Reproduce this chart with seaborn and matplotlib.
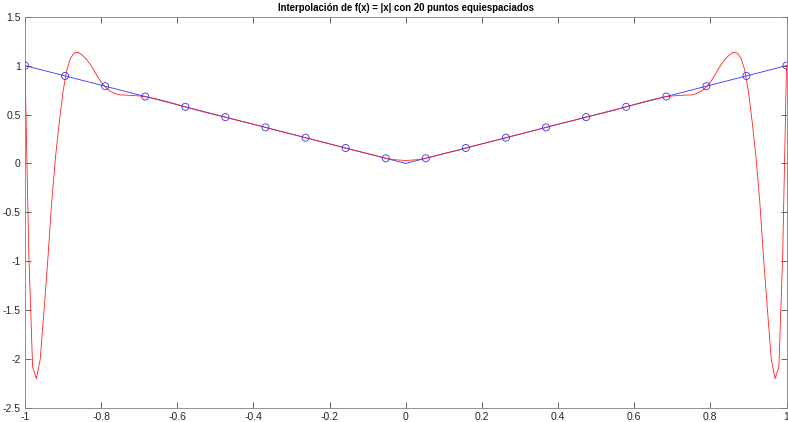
import matplotlib
matplotlib.use("Agg")
import matplotlib.pyplot as plt
import seaborn as sns
import pandas as pd

# ---- data ----
title = "Interpolación de f(x) = |x| con 20 puntos equiespaciados"

node_x = [-1.0, -0.8947, -0.7895, -0.6842, -0.5789, -0.4737, -0.3684, -0.2632, -0.1579, -0.0526,
          0.0526, 0.1579, 0.2632, 0.3684, 0.4737, 0.5789, 0.6842, 0.7895, 0.8947, 1.0]
node_y = [1.0, 0.8947, 0.7895, 0.6842, 0.5789, 0.4737, 0.3684, 0.2632, 0.1579, 0.0526,
          0.0526, 0.1579, 0.2632, 0.3684, 0.4737, 0.5789, 0.6842, 0.7895, 0.8947, 1.0]

abs_x = [-1.0, 0.0, 1.0]
abs_y = [1.0, 0.0, 1.0]

red_x = [-1.00, -0.99, -0.98, -0.97, -0.96, -0.95, -0.94, -0.93, -0.92, -0.91,
         -0.90, -0.89, -0.88, -0.87, -0.86, -0.85, -0.84, -0.83, -0.82, -0.81,
         -0.80, -0.79, -0.78, -0.77, -0.76, -0.75, -0.74, -0.72, -0.70, -0.68,
         -0.65, -0.63, -0.60, -0.58, -0.55, -0.52, -0.50, -0.47, -0.44, -0.42,
         -0.40, -0.37, -0.34, -0.32, -0.30, -0.26, -0.23, -0.21, -0.19, -0.16,
         -0.13, -0.10, -0.08, -0.05, -0.03, 0.00,
         0.03, 0.05, 0.08, 0.10, 0.13, 0.16, 0.19, 0.21, 0.23, 0.26,
         0.30, 0.32, 0.34, 0.37, 0.40, 0.42, 0.44, 0.47, 0.50, 0.52,
         0.55, 0.58, 0.60, 0.63, 0.65, 0.68, 0.70, 0.72, 0.74, 0.75,
         0.76, 0.77, 0.78, 0.79, 0.80, 0.81, 0.82, 0.83, 0.84, 0.85,
         0.86, 0.87, 0.88, 0.89, 0.90, 0.91, 0.92, 0.93, 0.94, 0.95,
         0.96, 0.97, 0.98, 0.99, 1.00]
red_y = [1.00, -0.93, -2.08, -2.20, -2.00, -1.50, -0.98, -0.40, 0.06, 0.42,
         0.74, 0.96, 1.08, 1.13, 1.135, 1.11, 1.07, 1.02, 0.96, 0.89,
         0.83, 0.785, 0.75, 0.725, 0.71, 0.70, 0.70, 0.695, 0.69, 0.68,
         0.655, 0.635, 0.603, 0.58, 0.546, 0.516, 0.497, 0.47, 0.438, 0.42,
         0.401, 0.37, 0.339, 0.319, 0.30, 0.26, 0.229, 0.21, 0.19, 0.158,
         0.128, 0.10, 0.081, 0.05, 0.038, 0.03,
         0.038, 0.05, 0.081, 0.10, 0.128, 0.158, 0.19, 0.21, 0.229, 0.26,
         0.30, 0.319, 0.339, 0.37, 0.401, 0.42, 0.438, 0.47, 0.497, 0.516,
         0.546, 0.58, 0.603, 0.635, 0.655, 0.68, 0.69, 0.695, 0.70, 0.70,
         0.71, 0.725, 0.75, 0.785, 0.83, 0.89, 0.96, 1.02, 1.07, 1.11,
         1.135, 1.13, 1.08, 0.96, 0.74, 0.42, 0.06, -0.40, -0.98, -1.50,
         -2.00, -2.20, -2.08, -0.93, 1.00]

x_ticks = [-1, -0.8, -0.6, -0.4, -0.2, 0, 0.2, 0.4, 0.6, 0.8, 1]
x_labels = ["-1", "-0.8", "-0.6", "-0.4", "-0.2", "0", "0.2", "0.4", "0.6", "0.8", "1"]
y_ticks = [-2.5, -2, -1.5, -1, -0.5, 0, 0.5, 1, 1.5]
y_labels = ["-2.5", "-2", "-1.5", "-1", "-0.5", "0", "0.5", "1", "1.5"]

# ---- styling ----
sns.set_style("ticks")
plt.rcParams["font.family"] = ["Liberation Sans", "DejaVu Sans"]
axis_col = "#262626"

fig = plt.figure(figsize=(7.88, 4.22), dpi=100)
ax = fig.add_axes([25 / 788, 14 / 422, 761.5 / 788, 391.3 / 422])

df_red = pd.DataFrame({"x": red_x, "y": red_y})
df_abs = pd.DataFrame({"x": abs_x, "y": abs_y})
df_nodes = pd.DataFrame({"x": node_x, "y": node_y})

sns.lineplot(data=df_abs, x="x", y="y", ax=ax, color="#3333FF", lw=0.6,
             sort=False, estimator=None)
sns.lineplot(data=df_red, x="x", y="y", ax=ax, color="#FF2020", lw=0.6,
             sort=False, estimator=None)
sns.scatterplot(data=df_nodes, x="x", y="y", ax=ax, marker="o", s=26,
                facecolor="none", edgecolor="#3333FF", linewidth=0.6, zorder=5)

ax.set_xlim(-1, 1)
ax.set_ylim(-2.5, 1.5)
ax.set_xticks(x_ticks)
ax.set_xticklabels(x_labels)
ax.set_yticks(y_ticks)
ax.set_yticklabels(y_labels)
ax.set_xlabel("")
ax.set_ylabel("")
ax.tick_params(direction="in", length=4, width=0.5, colors=axis_col,
               labelsize=7.5, top=True, right=True, pad=3)
for s in ax.spines.values():
    s.set_visible(True)
    s.set_linewidth(0.6)
    s.set_color("#808080")
ax.set_title(title, fontsize=6.9, fontweight="bold", color="black", pad=4)

fig.savefig("out.png", dpi=100)
